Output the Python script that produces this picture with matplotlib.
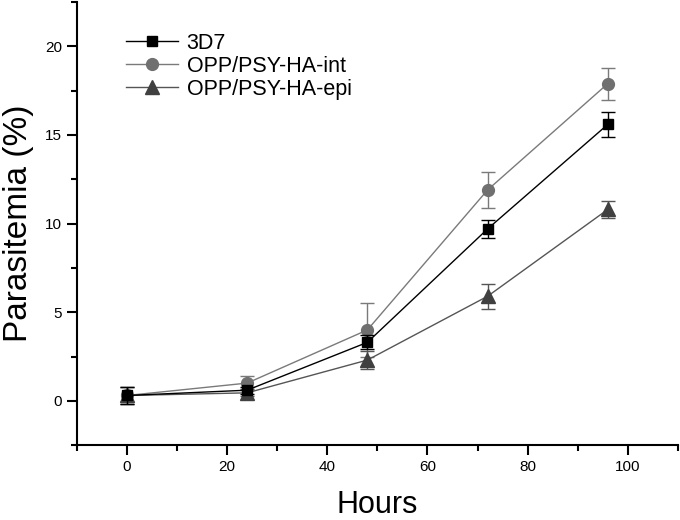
import matplotlib
matplotlib.use("Agg")
import matplotlib.pyplot as plt
from matplotlib.ticker import MultipleLocator

plt.rcParams['font.family'] = ['Liberation Sans', 'DejaVu Sans']

hours = [0, 24, 48, 72, 96]

wt = [0.3, 0.6, 3.3, 9.7, 15.6]
wt_err = [0.5, 0.2, 0.4, 0.5, 0.7]
intg = [0.3, 1.0, 4.0, 11.9, 17.9]
intg_err = [0.5, 0.4, 1.5, 1.0, 0.9]
epi = [0.3, 0.45, 2.3, 5.9, 10.8]
epi_err = [0.5, 0.2, 0.5, 0.7, 0.5]

labels = ['3D7', 'OPP/PSY-HA-int', 'OPP/PSY-HA-epi']

fig = plt.figure(figsize=(6.8, 5.2), dpi=100)
ax = fig.add_axes([0.113, 0.144, 0.884, 0.852])

ax.errorbar(hours, wt, yerr=wt_err, color='black', marker='s', ms=7.5,
            lw=1, capsize=5, elinewidth=1, label=labels[0], zorder=3)
ax.errorbar(hours, intg, yerr=intg_err, color='#7a7a7a', mfc='#707070', mec='#707070',
            marker='o', ms=8.5, lw=1, capsize=5, elinewidth=1, label=labels[1], zorder=2)
ax.errorbar(hours, epi, yerr=epi_err, color='#555555', mfc='#404040', mec='#404040',
            marker='^', ms=9.5, lw=1, capsize=5, elinewidth=1, label=labels[2], zorder=2)

ax.set_xlim(-10, 110)
ax.set_ylim(-2.5, 22.5)
ax.xaxis.set_major_locator(MultipleLocator(20))
ax.xaxis.set_minor_locator(MultipleLocator(10))
ax.yaxis.set_major_locator(MultipleLocator(5))
ax.yaxis.set_minor_locator(MultipleLocator(2.5))
ax.tick_params(which='major', direction='out', length=7, width=1.5, labelsize=11)
ax.tick_params(which='minor', direction='out', length=4, width=1.5)

ax.spines['top'].set_visible(False)
ax.spines['right'].set_visible(False)
ax.spines['left'].set_linewidth(1.5)
ax.spines['bottom'].set_linewidth(1.5)

ax.set_xlabel('Hours', fontsize=22, labelpad=12)
ax.set_ylabel('Parasitemia (%)', fontsize=24, labelpad=8)

handles, labs = ax.get_legend_handles_labels()
handles = [h[0] for h in handles]
ax.legend(handles, labs, loc='upper left', bbox_to_anchor=(0.05, 0.975), frameon=False,
          fontsize=15.5, handlelength=2.4, handletextpad=0.4, labelspacing=0.1)

fig.savefig('out.png', dpi=100)
